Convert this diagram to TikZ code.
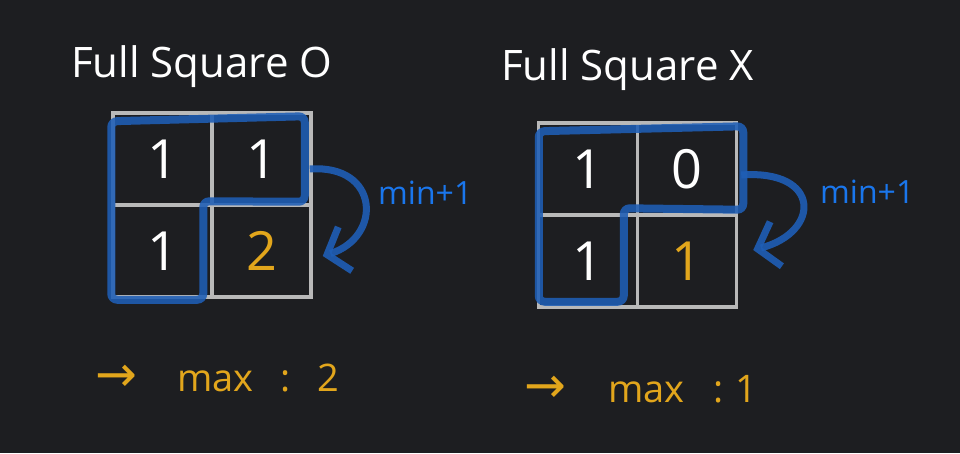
\documentclass[tikz,border=0pt]{standalone}
\usepackage{fontspec}
\setmainfont{Open Sans}
\newfontfamily\arwfont{DejaVu Sans}
\usetikzlibrary{arrows.meta}

\definecolor{board}{RGB}{29,30,33}
\definecolor{chalk}{RGB}{185,185,185}
\definecolor{pen}{RGB}{31,94,182}
\definecolor{penlight}{RGB}{26,118,236}
\definecolor{marker}{RGB}{226,166,28}

\begin{document}
\begin{tikzpicture}[x=1pt, y=-1pt,
    cell/.style={draw=chalk, line width=3.5pt, minimum width=99pt, minimum height=92pt,
                 inner sep=0pt, text=white, font=\fontsize{54}{54}\selectfont},
    region/.style={draw=pen, line width=8pt, opacity=0.88, rounded corners=6pt},
    hint/.style={draw=pen, line width=7pt, opacity=0.9,
                 -{Straight Barb[length=19pt,width=46pt]}},
    title/.style={anchor=base west, inner sep=0pt, text=white, font=\fontsize{42}{42}\selectfont},
    rule/.style={anchor=base west, inner sep=0pt, text=penlight, font=\fontsize{32}{32}\selectfont},
    result/.style={anchor=base west, inner sep=0pt, text=marker, font=\fontsize{38}{38}\selectfont}]
    % Board
    \fill[board] (0,0) rectangle (960,453);
    \useasboundingbox (0,0) rectangle (960,453);

    % Titles
    \node[title] (titleO) at (71,77) {Full Square O};
    \node[title] (titleX) at (501,80) {Full Square X};

    % Grid O
    \node[cell] (oTL) at (162.5,159) {1};
    \node[cell] (oTR) at (261.5,159) {1};
    \node[cell] (oBL) at (162.5,251) {1};
    \node[cell] (oBR) at (261.5,251) {\textcolor{marker}{2}};

    % Grid X
    \node[cell] (xTL) at (588,169) {1};
    \node[cell] (xTR) at (687,169) {0};
    \node[cell] (xBL) at (588,261) {1};
    \node[cell] (xBR) at (687,261) {\textcolor{marker}{1}};

    % Neighbour region O
    \draw[region] ([yshift=-10pt]oTL.north west) -- ([xshift=-8pt,yshift=-5pt]oTR.north east)
        -- ([xshift=-8pt,yshift=5pt]oTR.south east) -- ([xshift=-7pt,yshift=2pt]oBR.north west)
        -- ([xshift=-7pt,yshift=-1pt]oBR.south west) -- ([yshift=-1pt]oBL.south west) -- cycle;

    % Neighbour region X
    \draw[region] ([xshift=2pt,yshift=-10pt]xTL.north west) -- ([xshift=5pt,yshift=-5pt]xTR.north east)
        -- ([xshift=5pt,yshift=7pt]xTR.south east) -- ([xshift=-12pt,yshift=5pt]xBR.north west)
        -- ([xshift=-12pt,yshift=7pt]xBR.south west) -- ([xshift=2pt,yshift=7pt]xBL.south west) -- cycle;

    % min+1 arrows
    \draw[hint] ([xshift=-3pt,yshift=-10pt]oTR.east) .. controls +(70,-5) and +(60,-19)
        .. ([xshift=10pt,yshift=-5pt]oBR.east);
    \node[rule] (ruleO) at (378,204) {min+1};
    \draw[hint] ([xshift=3pt,yshift=-6pt]xTR.east) .. controls +(80,-6) and +(68,-18)
        .. ([xshift=15pt,yshift=11pt]xBR.east);
    \node[rule] (ruleX) at (820,203) {min+1};

    % Results
    \node[result] (maxO) at (95,391) {{\arwfont\fontsize{50}{50}\selectfont →}\hspace{40pt}max\hspace{27pt}:\hspace{27pt}2};
    \node[result] (maxX) at (524,402) {{\arwfont\fontsize{50}{50}\selectfont →}\hspace{42pt}max\hspace{29pt}:\hspace{12pt}1};
\end{tikzpicture}
\end{document}
